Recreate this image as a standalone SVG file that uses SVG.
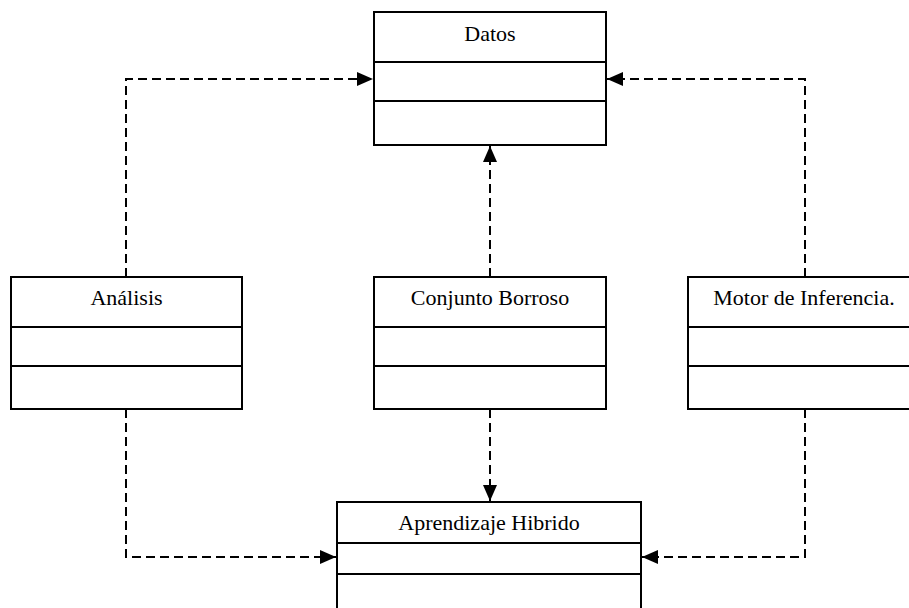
<svg xmlns="http://www.w3.org/2000/svg" width="909" height="608" viewBox="0 0 909 608">
  <style>
    .box { fill: #ffffff; stroke: #000000; stroke-width: 2; }
    .sep { stroke: #000000; stroke-width: 2; }
    .label { font-family: "Liberation Serif", "Times New Roman", serif; font-size: 22px; fill: #000000; text-anchor: middle; }
    .dep { fill: none; stroke: #000000; stroke-width: 2; stroke-dasharray: 9 5; }
  </style>
  <defs>
    <marker id="arrow" viewBox="0 0 16 14" refX="16" refY="7" markerWidth="16" markerHeight="14" markerUnits="userSpaceOnUse" orient="auto">
      <path d="M0,0 L16,7 L0,14 Z" fill="#000000"/>
    </marker>
  </defs>
  <rect width="909" height="608" fill="#ffffff"/>

  <!-- dependency connectors -->
  <g id="connectors">
    <path class="dep" d="M126,277 V79 H373" marker-end="url(#arrow)"/>
    <path class="dep" d="M805,277 V79 H607" marker-end="url(#arrow)"/>
    <path class="dep" d="M490,277 V146" marker-end="url(#arrow)"/>
    <path class="dep" d="M490,409 V501" marker-end="url(#arrow)"/>
    <path class="dep" d="M126,409 V557 H336" marker-end="url(#arrow)"/>
    <path class="dep" d="M805,409 V557 H642" marker-end="url(#arrow)"/>
  </g>

  <g id="datos">
    <rect class="box" x="374" y="12" width="232" height="133"/>
    <line class="sep" x1="374" y1="62" x2="606" y2="62"/>
    <line class="sep" x1="374" y1="101" x2="606" y2="101"/>
    <text class="label" x="490" y="41">Datos</text>
  </g>

  <g id="analisis">
    <rect class="box" x="11" y="277" width="231" height="132"/>
    <line class="sep" x1="11" y1="327" x2="242" y2="327"/>
    <line class="sep" x1="11" y1="366" x2="242" y2="366"/>
    <text class="label" x="126.5" y="305">Análisis</text>
  </g>

  <g id="conjunto-borroso">
    <rect class="box" x="374" y="277" width="232" height="132"/>
    <line class="sep" x1="374" y1="327" x2="606" y2="327"/>
    <line class="sep" x1="374" y1="366" x2="606" y2="366"/>
    <text class="label" x="490" y="305">Conjunto Borroso</text>
  </g>

  <g id="motor-inferencia">
    <rect class="box" x="688" y="277" width="232" height="132"/>
    <line class="sep" x1="688" y1="327" x2="920" y2="327"/>
    <line class="sep" x1="688" y1="366" x2="920" y2="366"/>
    <text class="label" x="804" y="305">Motor de Inferencia.</text>
  </g>

  <g id="aprendizaje-hibrido">
    <rect class="box" x="337" y="502" width="304" height="130"/>
    <line class="sep" x1="337" y1="543" x2="641" y2="543"/>
    <line class="sep" x1="337" y1="574" x2="641" y2="574"/>
    <text class="label" x="489" y="530">Aprendizaje Hibrido</text>
  </g>
</svg>
